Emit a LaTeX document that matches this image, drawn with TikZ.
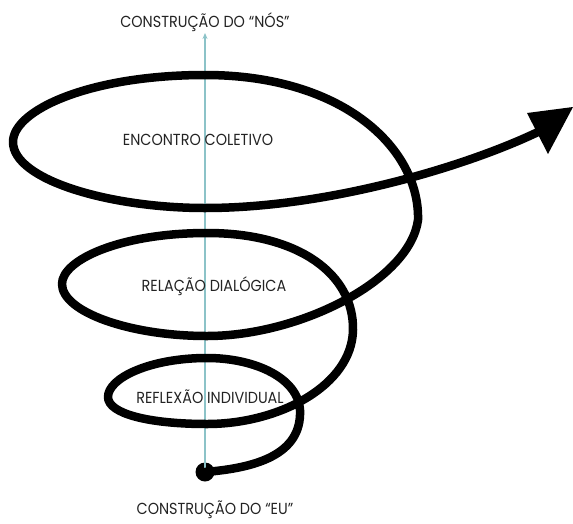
\documentclass[tikz,border=0pt]{standalone}
\usepackage{fontspec}
\setmainfont{Poppins}[FakeStretch=0.9]
\usetikzlibrary{arrows.meta}
\definecolor{axisc}{RGB}{140,195,200}
\definecolor{txt}{RGB}{35,35,35}
\begin{document}
\begin{tikzpicture}[x=1pt,y=-1pt,
  lbl/.style={font=\fontsize{16}{16}\selectfont, text=txt, inner sep=0pt},
  spiral/.style={line width=8.5pt, line cap=round, line join=round, draw=black},
  axisline/.style={draw=axisc, line width=1.1pt},
  dotstyle/.style={circle, fill=black, minimum size=19pt, inner sep=0pt}]
\useasboundingbox (0,0) rectangle (573,523);
\node[lbl] (nos) at (205,22) {CONSTRUÇÃO DO “NÓS”};
\node[lbl] (eu) at (215,510) {CONSTRUÇÃO DO “EU”};
\node[dotstyle] (dot) at (205,472) {};
\coordinate (axtop) at (205,33);
\draw[axisline, -{Stealth[length=6pt,width=5pt]}] (dot.center) -- (axtop);
\node[lbl] (enc) at (198,140) {ENCONTRO COLETIVO};
\node[lbl] (rel) at (214,286) {RELAÇÃO DIALÓGICA};
\node[lbl] (ref) at (210,397) {REFLEXÃO INDIVIDUAL};
\coordinate (tip) at (573,107);
\coordinate (headA) at (527,113);
\coordinate (headB) at (548,154);
\coordinate (shaftend) at (540,131);
\draw[spiral]
 (dot.center) .. controls (255,468) and (302,455) .. (300,410)
 .. controls (298,378) and (255,358) .. (207,358)
 .. controls (150,358) and (108,378) .. (108,397)
 .. controls (108,414) and (150,424) .. (207,424)
 .. controls (280,424) and (352,385) .. (353,330)
 .. controls (354,275) and (300,233) .. (207,233)
 .. controls (120,233) and (62,260) .. (62,284)
 .. controls (62,312) and (130,336) .. (207,336)
 .. controls (300,336) and (410,280) .. (418,220)
 .. controls (420,150) and (345,75) .. (205,75)
 .. controls (90,75) and (13,110) .. (13,142)
 .. controls (13,180) and (110,208) .. (205,208)
 .. controls (330,208) and (470,165) .. (shaftend);
\fill[black] (tip) -- (headA) -- (headB) -- cycle;
\end{tikzpicture}
\end{document}
